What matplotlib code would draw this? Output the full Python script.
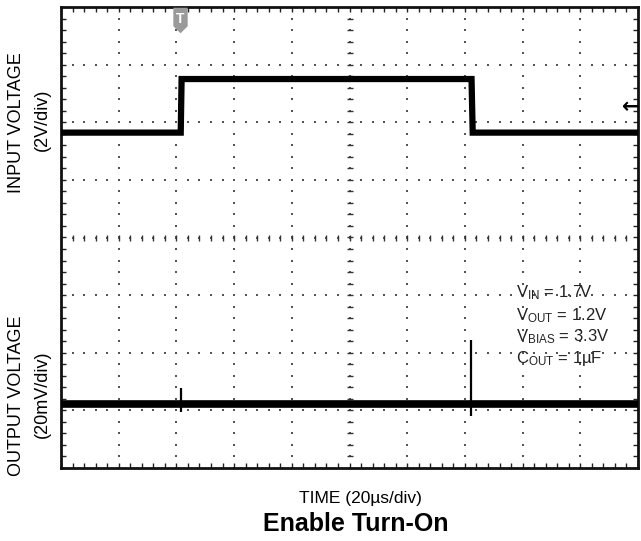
import numpy as np
import matplotlib
matplotlib.use("Agg")
import matplotlib.pyplot as plt
from matplotlib.path import Path

plt.rcParams['font.family'] = ['Liberation Sans', 'DejaVu Sans']
plt.rcParams['mathtext.fontset'] = 'custom'
plt.rcParams['mathtext.rm'] = 'Liberation Sans'
plt.rcParams['mathtext.it'] = 'Liberation Sans'

# ---- data (in scope divisions: x 0..10, y -4..4) ----
in_t = [0.0, 2.075, 2.09, 7.115, 7.135, 10.0]
in_v = [1.82, 1.82, 2.75, 2.75, 1.82, 1.82]

out_t = [0.0, 10.0]
out_v = [-2.89, -2.89]
spike_t = [2.08, 7.10]
spike_hi = [-2.61, -1.78]
spike_lo = [-3.03, -3.09]

trig_t = 2.06
ref_level = 2.26

notes = [r'V$_{\mathrm{IN}}$ = 1.7V', r'V$_{\mathrm{OUT}}$ = 1.2V',
         r'V$_{\mathrm{BIAS}}$ = 3.3V', r'C$_{\mathrm{OUT}}$ = 1µF']
note_y = [-0.95, -1.35, -1.72, -2.10]

fig = plt.figure(figsize=(6.41, 5.41), dpi=100)
ax = fig.add_axes([61/641, 1-468/541, 577/641, 461/541])
ax.set_xlim(0, 10)
ax.set_ylim(-4, 4)

# grid dots
sub = np.arange(0, 10.001, 0.2)
suby = np.arange(-4, 4.001, 0.2)
gc = '#555555'
for gx in range(1, 10):
    ax.scatter(np.full(len(suby), gx), suby, s=2.5, c=gc, marker='s', lw=0, zorder=1)
for gy in range(-3, 4):
    ax.scatter(sub, np.full(len(sub), gy), s=2.5, c=gc, marker='s', lw=0, zorder=1)
# center axis ticks
ax.scatter(np.full(len(suby), 5), suby, s=16, c='#333333', marker='_', lw=1.0, zorder=1)
ax.scatter(sub, np.zeros(len(sub)), s=16, c='#333333', marker='|', lw=1.0, zorder=1)

# border ticks
ax.set_xticks(sub)
ax.set_yticks(suby)
ax.tick_params(direction='in', length=3.5, width=1.0, top=True, right=True,
               labelbottom=False, labelleft=False, color='#222222')
for s in ax.spines.values():
    s.set_linewidth(2.0)
    s.set_color('#111111')

# traces
ax.plot(in_t, in_v, color='black', lw=4.5, solid_joinstyle='miter', zorder=3)
ax.plot(out_t, out_v, color='black', lw=5.5, zorder=3)
ax.vlines(spike_t, spike_lo, spike_hi, color='black', lw=1.6, zorder=3)

# trigger marker (shield) and reference arrow
shield = Path([(-0.56, 1), (0.56, 1), (0.56, -0.45), (0, -1), (-0.56, -0.45), (-0.56, 1)],
              [Path.MOVETO, Path.LINETO, Path.LINETO, Path.LINETO, Path.LINETO, Path.CLOSEPOLY])
ax.scatter([trig_t], [3.77], marker=shield, s=340, c='#9a9a9a', lw=0, zorder=5)
ax.text(trig_t, 3.80, 'T', ha='center', va='center', fontsize=10, fontweight='bold',
        color='white', zorder=6)
ax.text(9.88, ref_level, '←', ha='center', va='center', fontsize=15,
        fontweight='bold', color='black', family=['DejaVu Sans'], zorder=5)

for s, y in zip(notes, note_y):
    ax.text(7.88, y, s, ha='left', va='center', fontsize=12, color='#222222', zorder=4)

# labels
fig.text(17/641, 1-123/541, 'INPUT VOLTAGE', rotation=90, ha='center', va='center', fontsize=13)
fig.text(42/641, 1-120/541, '(2V/div)', rotation=90, ha='center', va='center', fontsize=13)
fig.text(17/641, 1-396/541, 'OUTPUT VOLTAGE', rotation=90, ha='center', va='center', fontsize=13)
fig.text(42/641, 1-394/541, '(20mV/div)', rotation=90, ha='center', va='center', fontsize=13)
fig.text(360/641, 1-498/541, 'TIME (20µs/div)', ha='center', va='center', fontsize=12.5)
fig.text(356/641, 1-524/541, 'Enable Turn-On', ha='center', va='center', fontsize=18,
         fontweight='bold')

fig.savefig('out.png', dpi=100)
